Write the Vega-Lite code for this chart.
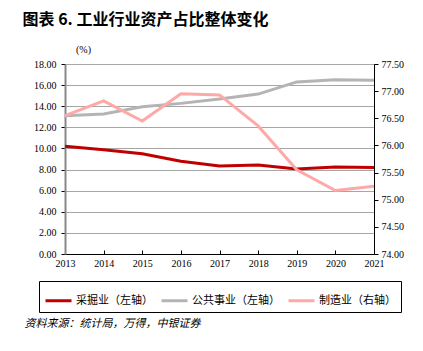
{
  "$schema": "https://vega.github.io/schema/vega-lite/v6.json",
  "padding": {"left": 22, "top": 12, "right": 5, "bottom": 5},
  "background": "white",
  "title": {"text": "资料来源：统计局，万得，中银证券", "orient": "bottom", "anchor": "start", "dx": 2, "font": "Noto Sans CJK SC", "fontSize": 11, "fontStyle": "italic", "fontWeight": "normal", "color": "#000", "offset": 5},
  "config": {"view": {"stroke": null}, "axis": {"labelFont": "Liberation Serif", "labelFontSize": 10, "labelColor": "#000"}},
  "datasets": {
    "d": [
      {"year": 2013, "series": "采掘业（左轴）", "value": 10.2},
      {"year": 2014, "series": "采掘业（左轴）", "value": 9.88},
      {"year": 2015, "series": "采掘业（左轴）", "value": 9.5},
      {"year": 2016, "series": "采掘业（左轴）", "value": 8.78},
      {"year": 2017, "series": "采掘业（左轴）", "value": 8.33},
      {"year": 2018, "series": "采掘业（左轴）", "value": 8.43},
      {"year": 2019, "series": "采掘业（左轴）", "value": 8.05},
      {"year": 2020, "series": "采掘业（左轴）", "value": 8.25},
      {"year": 2021, "series": "采掘业（左轴）", "value": 8.2},
      {"year": 2013, "series": "公共事业（左轴）", "value": 13.1},
      {"year": 2014, "series": "公共事业（左轴）", "value": 13.26},
      {"year": 2015, "series": "公共事业（左轴）", "value": 13.95},
      {"year": 2016, "series": "公共事业（左轴）", "value": 14.27},
      {"year": 2017, "series": "公共事业（左轴）", "value": 14.68},
      {"year": 2018, "series": "公共事业（左轴）", "value": 15.15},
      {"year": 2019, "series": "公共事业（左轴）", "value": 16.3},
      {"year": 2020, "series": "公共事业（左轴）", "value": 16.5},
      {"year": 2021, "series": "公共事业（左轴）", "value": 16.45},
      {"year": 2013, "series": "制造业（右轴）", "value": 76.55},
      {"year": 2014, "series": "制造业（右轴）", "value": 76.82},
      {"year": 2015, "series": "制造业（右轴）", "value": 76.45},
      {"year": 2016, "series": "制造业（右轴）", "value": 76.95},
      {"year": 2017, "series": "制造业（右轴）", "value": 76.93},
      {"year": 2018, "series": "制造业（右轴）", "value": 76.36},
      {"year": 2019, "series": "制造业（右轴）", "value": 75.55},
      {"year": 2020, "series": "制造业（右轴）", "value": 75.17},
      {"year": 2021, "series": "制造业（右轴）", "value": 75.25}
    ]
  },
  "vconcat": [
    {
      "width": 309,
      "height": 190,
      "title": {"text": "图表 6. 工业行业资产占比整体变化", "anchor": "start", "dx": -11, "font": "Noto Sans CJK SC", "fontSize": 16, "fontWeight": "bold", "color": "#000", "offset": 16},
      "data": {"name": "d"},
      "encoding": {
        "x": {"field": "year", "type": "quantitative", "scale": {"domain": [2013, 2021], "nice": false, "zero": false},
          "axis": {"values": [2013, 2014, 2015, 2016, 2017, 2018, 2019, 2020, 2021], "format": "d", "title": null, "grid": false, "domainColor": "#000", "tickColor": "#000", "tickSize": -4, "labelPadding": 8, "labelFlush": false, "labelOverlap": false}},
        "color": {"field": "series", "type": "nominal", "scale": {"domain": ["采掘业（左轴）", "公共事业（左轴）", "制造业（右轴）"], "range": ["#C00000", "#B4B4B4", "#FFA8A8"]},
          "legend": {"orient": "none", "legendX": -26, "legendY": 217, "direction": "horizontal", "title": null, "symbolType": "stroke", "symbolSize": 676, "symbolStrokeWidth": 3, "labelFont": "Noto Sans CJK SC", "labelFontSize": 11, "labelColor": "#000", "labelOffset": 3, "strokeColor": "#000", "padding": 5, "columnPadding": 2}}
      },
      "layer": [
        {
          "transform": [{"filter": "datum.series !== '制造业（右轴）'"}],
          "mark": {"type": "line", "strokeWidth": 3},
          "encoding": {
            "y": {"field": "value", "type": "quantitative", "scale": {"domain": [0, 18], "nice": false},
              "axis": {"values": [0, 2, 4, 6, 8, 10, 12, 14, 16, 18], "format": ".2f", "title": "(%)", "titleAngle": 0, "titleX": 18, "titleY": -10, "titleAlign": "center", "titleFont": "Liberation Serif", "titleFontSize": 10, "titleFontWeight": "normal", "titleColor": "#000", "grid": true, "gridColor": "#000", "gridDash": [1, 1], "gridOpacity": 0.7, "domainColor": "#888", "domainWidth": 2, "tickColor": "#000", "tickSize": 4, "labelPadding": 5, "labelOverlap": false}}
          }
        },
        {
          "transform": [{"filter": "datum.series === '制造业（右轴）'"}],
          "mark": {"type": "line", "strokeWidth": 3},
          "encoding": {
            "y": {"field": "value", "type": "quantitative", "scale": {"domain": [74, 77.5], "nice": false, "zero": false},
              "axis": {"orient": "right", "values": [74, 74.5, 75, 75.5, 76, 76.5, 77, 77.5], "format": ".2f", "title": null, "grid": false, "domainColor": "#000", "tickColor": "#000", "tickSize": 4, "labelPadding": 3, "labelOverlap": false}}
          }
        }
      ],
      "resolve": {"scale": {"y": "independent"}}
    }
  ]
}
